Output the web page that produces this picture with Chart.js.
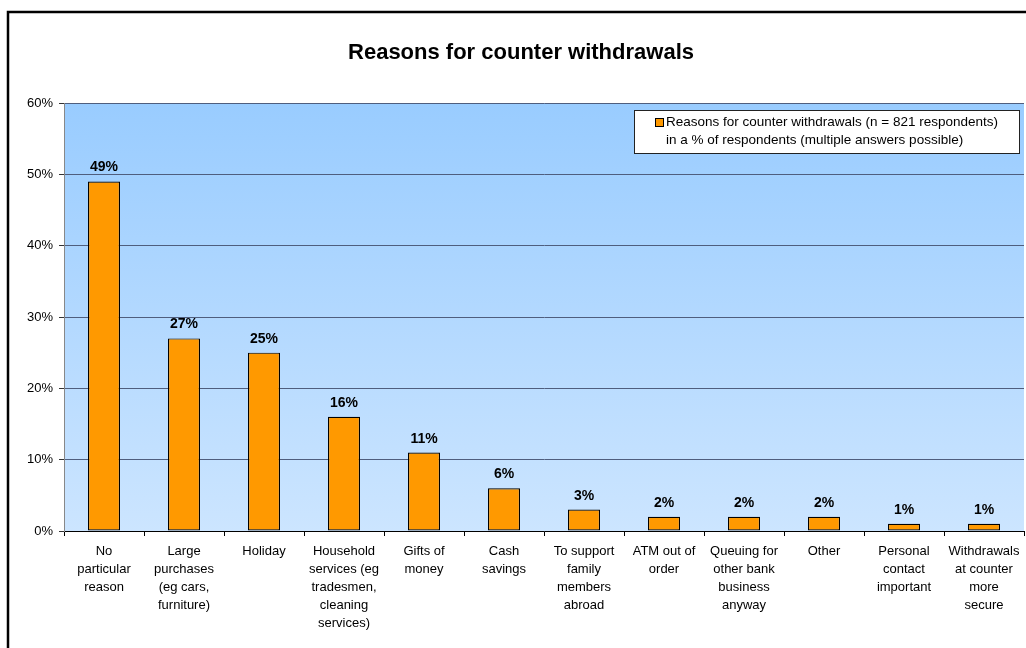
<!DOCTYPE html>
<html>
<head>
<meta charset="utf-8">
<script src="https://cdn.jsdelivr.net/npm/chart.js@4.4.1/dist/chart.umd.min.js"></script>
<style>
  html, body { margin: 0; padding: 0; background: #fff; }
  #wrap { width: 1026px; height: 648px; position: relative; }
</style>
</head>
<body>
<div id="wrap"><canvas id="c" width="1026" height="648"></canvas></div>
<script>
const chartTitle = 'Reasons for counter withdrawals';
const seriesLabel = ['Reasons for counter withdrawals (n = 821 respondents)', 'in a % of respondents (multiple answers possible)'];
const categories = [
  ['No', 'particular', 'reason'],
  ['Large', 'purchases', '(eg cars,', 'furniture)'],
  ['Holiday'],
  ['Household', 'services (eg', 'tradesmen,', 'cleaning', 'services)'],
  ['Gifts of', 'money'],
  ['Cash', 'savings'],
  ['To support', 'family', 'members', 'abroad'],
  ['ATM out of', 'order'],
  ['Queuing for', 'other bank', 'business', 'anyway'],
  ['Other'],
  ['Personal', 'contact', 'important'],
  ['Withdrawals', 'at counter', 'more', 'secure']
];
const values = [49, 27, 25, 16, 11, 6, 3, 2, 2, 2, 1, 1];
const yTicks = [0, 10, 20, 30, 40, 50, 60];

const FONT = 'Arial, "Liberation Sans", sans-serif';

// Outer frame, title, gradient plot background, value labels and legend box
const framePlugin = {
  id: 'frame',
  beforeDraw(chart) {
    const { ctx, chartArea: a } = chart;
    ctx.save();
    const g = ctx.createLinearGradient(0, a.top, 0, a.bottom);
    g.addColorStop(0, '#99CCFF');
    g.addColorStop(1, '#CCE5FF');
    ctx.fillStyle = g;
    ctx.fillRect(a.left, a.top, a.right - a.left, a.bottom - a.top);
    ctx.strokeStyle = '#000';
    ctx.lineWidth = 2.5;
    ctx.strokeRect(8, 12, chart.width + 20, chart.height + 20);
    ctx.fillStyle = '#000';
    ctx.font = 'bold 22px ' + FONT;
    ctx.textAlign = 'center';
    ctx.textBaseline = 'middle';
    ctx.fillText(chartTitle, 521, 53);
    ctx.restore();
  },
  afterDatasetsDraw(chart) {
    const { ctx } = chart;
    const meta = chart.getDatasetMeta(0);
    ctx.save();
    ctx.fillStyle = '#000';
    ctx.font = 'bold 14px ' + FONT;
    ctx.textAlign = 'center';
    ctx.textBaseline = 'alphabetic';
    meta.data.forEach((bar, i) => {
      ctx.fillText(values[i] + '%', bar.x, bar.y - 10);
    });
    // legend box
    const bx = 634, by = 110, bw = 385, bh = 43;
    ctx.fillStyle = '#fff';
    ctx.fillRect(bx, by, bw, bh);
    ctx.strokeStyle = '#222';
    ctx.lineWidth = 1;
    ctx.strokeRect(bx + 0.5, by + 0.5, bw, bh);
    ctx.fillStyle = '#FF9900';
    ctx.fillRect(655.5, 118.5, 8, 8);
    ctx.strokeStyle = '#000';
    ctx.strokeRect(655.5, 118.5, 8, 8);
    ctx.fillStyle = '#000';
    ctx.font = '13.5px ' + FONT;
    ctx.textAlign = 'left';
    ctx.textBaseline = 'middle';
    ctx.fillText(seriesLabel[0], 666, 122);
    ctx.fillText(seriesLabel[1], 666, 140);
    ctx.restore();
  }
};

new Chart(document.getElementById('c'), {
  type: 'bar',
  data: {
    labels: categories,
    datasets: [{
      label: seriesLabel.join(' '),
      data: values,
      backgroundColor: '#FF9900',
      borderColor: '#000',
      borderWidth: 1.2,
      borderSkipped: false,
      categoryPercentage: 1,
      barPercentage: 0.4
    }]
  },
  options: {
    responsive: false,
    animation: false,
    layout: { padding: { left: 0, right: 2, top: 103, bottom: 0 } },
    plugins: {
      legend: { display: false },
      title: { display: false },
      tooltip: { enabled: false }
    },
    scales: {
      x: {
        offset: true,
        grid: { display: true, drawOnChartArea: false, offset: true, tickLength: 5, tickColor: '#000', lineWidth: 1 },
        border: { display: true, color: '#000', width: 1 },
        ticks: { color: '#000', font: { family: FONT, size: 13, lineHeight: 18 / 13 }, maxRotation: 0, autoSkip: false, padding: 6 },
        afterFit(s) { s.height = 117; }
      },
      y: {
        min: 0, max: 60,
        afterBuildTicks(s) { s.ticks = yTicks.map(v => ({ value: v })); },
        grid: { color: '#4F5E7E', lineWidth: 1, tickLength: 5, tickColor: '#333' },
        border: { display: true, color: '#888', width: 1 },
        ticks: { color: '#000', font: { family: FONT, size: 13 }, padding: 6, callback: v => v + '%' },
        afterFit(s) { s.width = 64; }
      }
    }
  },
  plugins: [framePlugin]
});
</script>
</body>
</html>
